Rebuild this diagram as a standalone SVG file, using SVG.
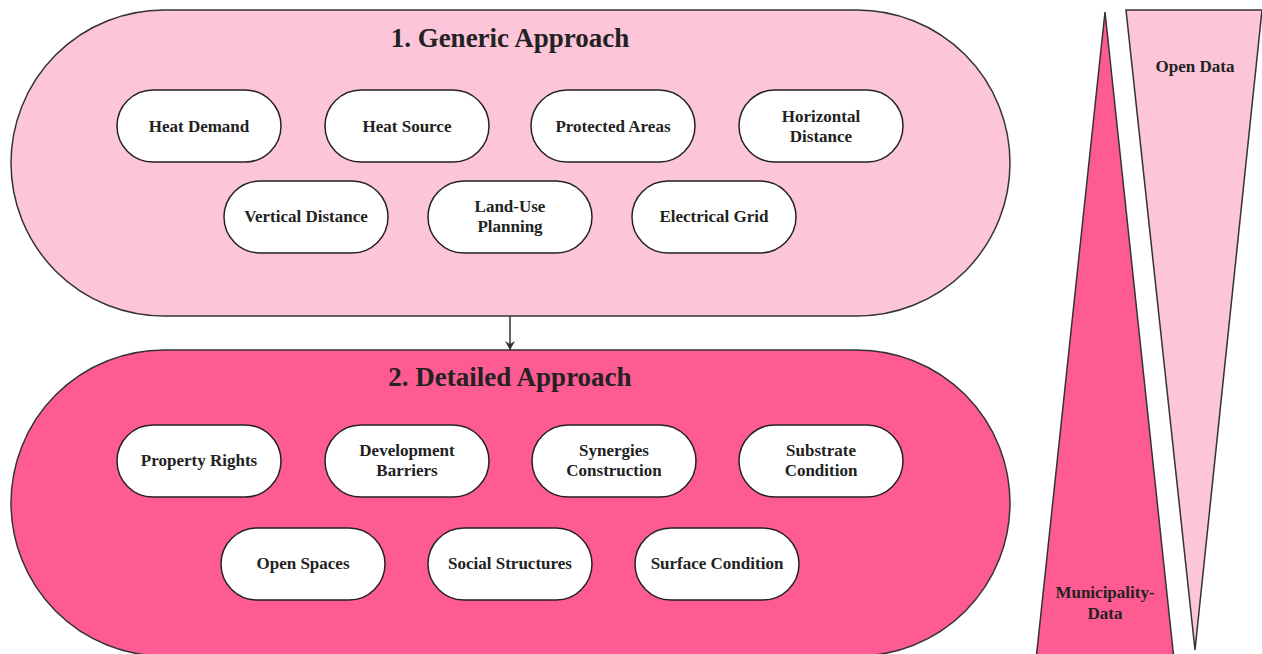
<svg xmlns="http://www.w3.org/2000/svg" width="1262" height="654" viewBox="0 0 1262 654">
<style>
.big{stroke:#333;stroke-width:1.5}
.light{fill:#fcc5d9}
.dark{fill:#ff5b93}
.pill{fill:#fff;stroke:#222;stroke-width:1.5}
text{font-family:"Liberation Serif","Times New Roman",serif;font-weight:bold;fill:#222;text-anchor:middle}
.t{font-size:17px}
.h{font-size:27px}
</style>
<defs>
<marker id="ah" markerWidth="10" markerHeight="10" refX="9" refY="5" orient="auto" markerUnits="userSpaceOnUse" viewBox="0 0 10 10">
<path d="M0,0 L9,5 L0,10 L3,5 Z" fill="#333"/>
</marker>
</defs>
<g id="generic">
<rect class="big light" x="11" y="10" width="999" height="306" rx="153" ry="153"/>
<text class="h" x="510" y="47">1. Generic Approach</text>
</g>
<g id="detailed">
<rect class="big dark" x="11" y="350" width="999" height="306" rx="153" ry="153"/>
<text class="h" x="510" y="386">2. Detailed Approach</text>
</g>
<g id="connectors">
<line x1="510" y1="316" x2="510" y2="350" stroke="#333" stroke-width="1.5" marker-end="url(#ah)"/>
</g>
<g id="heat-demand"><rect class="pill" x="117" y="90" width="164" height="72" rx="36"/><text class="t" x="199" y="132">Heat Demand</text></g>
<g id="heat-source"><rect class="pill" x="325" y="90" width="164" height="72" rx="36"/><text class="t" x="407" y="132">Heat Source</text></g>
<g id="protected-areas"><rect class="pill" x="531" y="90" width="164" height="72" rx="36"/><text class="t" x="613" y="132">Protected Areas</text></g>
<g id="horizontal-distance"><rect class="pill" x="739" y="90" width="164" height="72" rx="36"/><text class="t" x="821" y="122">Horizontal</text><text class="t" x="821" y="142">Distance</text></g>
<g id="vertical-distance"><rect class="pill" x="224" y="181" width="164" height="72" rx="36"/><text class="t" x="306" y="222">Vertical Distance</text></g>
<g id="land-use"><rect class="pill" x="428" y="181" width="164" height="72" rx="36"/><text class="t" x="510" y="212">Land-Use</text><text class="t" x="510" y="232">Planning</text></g>
<g id="electrical-grid"><rect class="pill" x="632" y="181" width="164" height="72" rx="36"/><text class="t" x="714" y="222">Electrical Grid</text></g>
<g id="property-rights"><rect class="pill" x="117" y="425" width="164" height="72" rx="36"/><text class="t" x="199" y="466">Property Rights</text></g>
<g id="development-barriers"><rect class="pill" x="325" y="425" width="164" height="72" rx="36"/><text class="t" x="407" y="456">Development</text><text class="t" x="407" y="476">Barriers</text></g>
<g id="synergies"><rect class="pill" x="532" y="425" width="164" height="72" rx="36"/><text class="t" x="614" y="456">Synergies</text><text class="t" x="614" y="476">Construction</text></g>
<g id="substrate"><rect class="pill" x="739" y="425" width="164" height="72" rx="36"/><text class="t" x="821" y="456">Substrate</text><text class="t" x="821" y="476">Condition</text></g>
<g id="open-spaces"><rect class="pill" x="221" y="528" width="164" height="72" rx="36"/><text class="t" x="303" y="569">Open Spaces</text></g>
<g id="social-structures"><rect class="pill" x="428" y="528" width="164" height="72" rx="36"/><text class="t" x="510" y="569">Social Structures</text></g>
<g id="surface-condition"><rect class="pill" x="635" y="528" width="164" height="72" rx="36"/><text class="t" x="717" y="569">Surface Condition</text></g>
<g id="municipality-data">
<polygon class="big dark" points="1105,12 1174,660 1036,660"/>
<text class="t" x="1105" y="598">Municipality-</text><text class="t" x="1105" y="619">Data</text>
</g>
<g id="open-data">
<polygon class="big light" points="1126,10 1262,10 1195,650"/>
<text class="t" x="1195" y="72">Open Data</text>
</g>
</svg>
